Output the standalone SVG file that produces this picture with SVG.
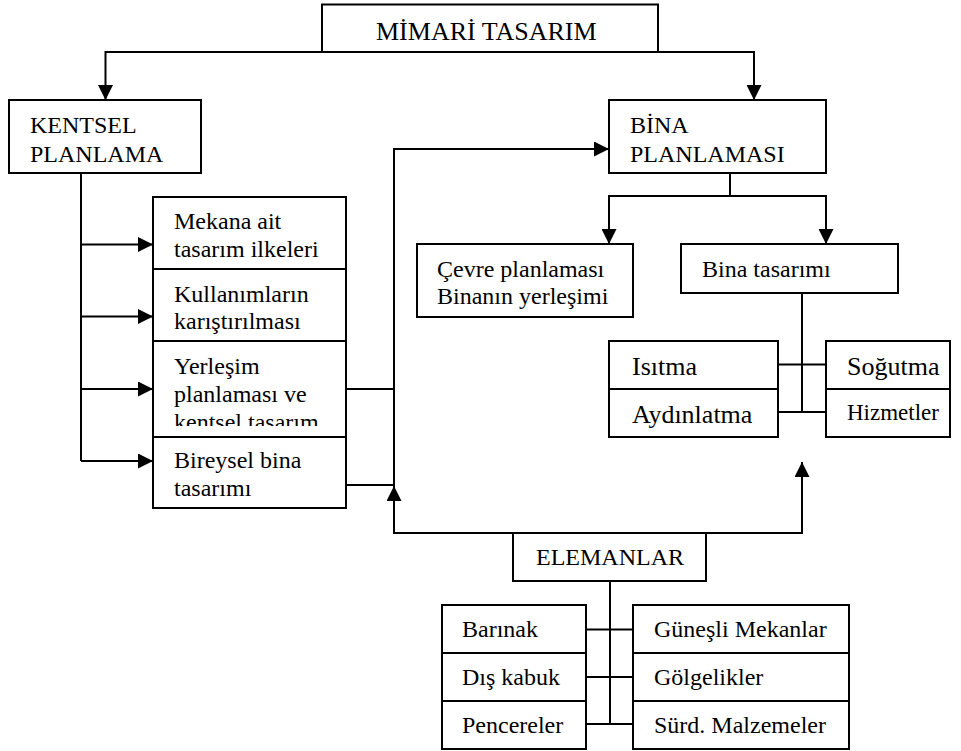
<svg xmlns="http://www.w3.org/2000/svg" width="961" height="751" viewBox="0 0 961 751">
<style>
.box{fill:#fff;stroke:#000;stroke-width:2}
.ln{fill:none;stroke:#000;stroke-width:2}
.t{font-family:"Liberation Serif","Times New Roman",serif;font-size:24px;fill:#000}
.t26{font-size:26px}
</style>
<defs>
<marker id="ah" viewBox="0 0 10 10" refX="10" refY="5" markerUnits="userSpaceOnUse" markerWidth="15" markerHeight="15" orient="auto">
<path d="M0,0 L10,5 L0,10 z" fill="#000"/>
</marker>
<clipPath id="clipY"><rect x="153" y="341" width="193" height="85"/></clipPath>
</defs>
<rect width="961" height="751" fill="#fff"/>
<g id="connectors">
<path class="ln" d="M322,52 H105.5 V100" marker-end="url(#ah)"/>
<path class="ln" d="M658,52 H754 V100" marker-end="url(#ah)"/>
<path class="ln" d="M81,173 V461"/>
<path class="ln" d="M81,244.5 H153" marker-end="url(#ah)"/>
<path class="ln" d="M81,316.5 H153" marker-end="url(#ah)"/>
<path class="ln" d="M81,389 H153" marker-end="url(#ah)"/>
<path class="ln" d="M81,461 H153" marker-end="url(#ah)"/>
<path class="ln" d="M346,389 H394"/>
<path class="ln" d="M346,485 H394 V149 H609" marker-end="url(#ah)"/>
<path class="ln" d="M730,173 V196"/>
<path class="ln" d="M730,196 H609 V244" marker-end="url(#ah)"/>
<path class="ln" d="M730,196 H826 V244" marker-end="url(#ah)"/>
<path class="ln" d="M802,293 V412"/>
<path class="ln" d="M778,364.5 H826 M778,412 H826"/>
<path class="ln" d="M610,533 H394 V486" marker-end="url(#ah)"/>
<path class="ln" d="M610,533 H802 V462" marker-end="url(#ah)"/>
<path class="ln" d="M610,581 V724"/>
<path class="ln" d="M586,629.5 H633 M586,677 H633 M586,724 H633"/>
</g>
<g id="mimari">
<rect class="box" x="322" y="4.5" width="336" height="47.5"/>
<text class="t t26" x="376" y="40">MİMARİ TASARIM</text>
</g>
<g id="kentsel">
<rect class="box" x="9" y="100" width="192" height="73"/>
<text class="t" x="30" y="133">KENTSEL</text>
<text class="t" x="30" y="162">PLANLAMA</text>
</g>
<g id="bina-planlamasi">
<rect class="box" x="609" y="100" width="217" height="73"/>
<text class="t" x="630" y="133">BİNA</text>
<text class="t" x="630" y="162">PLANLAMASI</text>
</g>
<g id="mekana">
<rect class="box" x="153" y="197" width="193" height="72"/>
<text class="t" x="174" y="229">Mekana ait</text>
<text class="t" x="174" y="257">tasarım ilkeleri</text>
</g>
<g id="kullanim">
<rect class="box" x="153" y="269" width="193" height="72"/>
<text class="t" x="174" y="302">Kullanımların</text>
<text class="t" x="174" y="329">karıştırılması</text>
</g>
<g id="yerlesim">
<rect class="box" x="153" y="341" width="193" height="96"/>
<g clip-path="url(#clipY)">
<text class="t" x="174" y="374">Yerleşim</text>
<text class="t" x="174" y="402">planlaması ve</text>
<text class="t" x="174" y="430">kentsel  tasarım</text>
</g>
</g>
<g id="bireysel">
<rect class="box" x="153" y="437" width="193" height="71"/>
<text class="t" x="174" y="468">Bireysel bina</text>
<text class="t" x="174" y="496">tasarımı</text>
</g>
<g id="cevre">
<rect class="box" x="417" y="244" width="216" height="73"/>
<text class="t" x="437" y="277">Çevre planlaması</text>
<text class="t" x="437" y="304">Binanın yerleşimi</text>
</g>
<g id="bina-tasarimi">
<rect class="box" x="681" y="244" width="217" height="49"/>
<text class="t" x="702" y="277">Bina tasarımı</text>
</g>
<g id="isitma">
<rect class="box" x="609" y="341" width="169" height="48"/>
<text class="t t26" x="632" y="375">Isıtma</text>
</g>
<g id="aydinlatma">
<rect class="box" x="609" y="389" width="169" height="48"/>
<text class="t t26" x="632" y="423">Aydınlatma</text>
</g>
<g id="sogutma">
<rect class="box" x="826" y="341" width="124" height="48"/>
<text class="t t26" x="847" y="375">Soğutma</text>
</g>
<g id="hizmetler">
<rect class="box" x="826" y="389" width="124" height="48"/>
<text class="t" x="847" y="420" style="font-size:23px">Hizmetler</text>
</g>
<g id="elemanlar">
<rect class="box" x="513" y="533" width="193" height="48"/>
<text class="t" x="536" y="565">ELEMANLAR</text>
</g>
<g id="barinak">
<rect class="box" x="442" y="605" width="144" height="48"/>
<text class="t" x="462" y="637">Barınak</text>
</g>
<g id="dis-kabuk">
<rect class="box" x="442" y="653" width="144" height="48"/>
<text class="t" x="462" y="685">Dış kabuk</text>
</g>
<g id="pencereler">
<rect class="box" x="442" y="701" width="144" height="48"/>
<text class="t" x="462" y="733">Pencereler</text>
</g>
<g id="gunesli">
<rect class="box" x="633" y="605" width="216" height="48"/>
<text class="t" x="654" y="637">Güneşli Mekanlar</text>
</g>
<g id="golgelikler">
<rect class="box" x="633" y="653" width="216" height="48"/>
<text class="t" x="654" y="685">Gölgelikler</text>
</g>
<g id="surd">
<rect class="box" x="633" y="701" width="216" height="48"/>
<text class="t" x="654" y="733">Sürd. Malzemeler</text>
</g>
</svg>
